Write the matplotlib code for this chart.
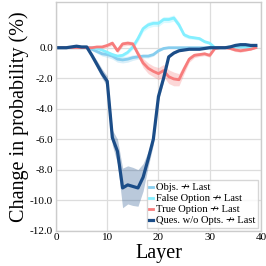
import numpy as np
import matplotlib
matplotlib.use("Agg")
import matplotlib.pyplot as plt

plt.rcParams["font.family"] = ["Liberation Serif", "DejaVu Serif", "DejaVu Sans"]

layers = np.arange(40)

# mean change in probability (%) per layer
objs = [0.0, 0.0, 0.0, 0.0, 0.0, 0.0, 0.0, -0.1, -0.25, -0.4,
        -0.45, -0.55, -0.75, -0.8, -0.75, -0.65, -0.6, -0.55, -0.55, -0.45,
        -0.2, -0.05, 0.0, 0.0, 0.0, 0.0, 0.0, 0.0, 0.0, 0.0,
        0.0, 0.0, 0.0, 0.0, 0.05, 0.05, 0.05, 0.05, 0.05, 0.05]
false_opt = [0.0, 0.0, 0.0, 0.0, 0.0, 0.0, 0.0, 0.0, -0.05, -0.15,
             -0.3, -0.45, -0.55, -0.5, -0.3, 0.05, 0.6, 1.25, 1.5, 1.6,
             1.6, 1.85, 1.85, 1.95, 1.5, 0.85, 0.7, 0.65, 0.6, 0.4,
             0.3, 0.0, 0.0, 0.0, 0.05, 0.1, 0.1, 0.05, 0.05, 0.05]
true_opt = [0.0, 0.0, 0.0, 0.0, 0.0, 0.0, 0.0, 0.0, 0.05, 0.05,
            0.15, 0.3, -0.2, 0.25, 0.3, 0.25, -0.4, -1.0, -1.35, -1.55,
            -1.7, -1.5, -1.9, -2.05, -2.1, -1.4, -0.75, -0.5, -0.45, -0.4,
            -0.5, -0.05, 0.0, 0.0, -0.05, -0.15, -0.2, -0.15, -0.1, 0.0]
ques = [0.0, 0.0, 0.0, 0.05, 0.1, 0.05, 0.05, -0.5, -1.1, -1.7,
        -2.2, -5.9, -6.8, -9.2, -9.0, -9.1, -9.2, -8.5, -7.3, -6.0,
        -3.2, -2.0, -0.6, -0.35, -0.2, -0.15, -0.1, -0.1, -0.1, -0.05,
        0.0, 0.0, 0.0, 0.0, 0.05, 0.15, 0.2, 0.2, 0.15, 0.15]

# spread (shaded band half-width)
objs_sd = [0.02, 0.02, 0.02, 0.02, 0.02, 0.02, 0.03, 0.08, 0.12, 0.15,
           0.18, 0.2, 0.2, 0.2, 0.2, 0.18, 0.15, 0.12, 0.12, 0.1,
           0.08, 0.05, 0.03, 0.03, 0.03, 0.03, 0.03, 0.03, 0.03, 0.03,
           0.03, 0.03, 0.03, 0.03, 0.05, 0.05, 0.05, 0.04, 0.03, 0.03]
false_sd = [0.02, 0.02, 0.02, 0.02, 0.02, 0.02, 0.02, 0.03, 0.05, 0.08,
            0.1, 0.12, 0.12, 0.12, 0.12, 0.15, 0.2, 0.2, 0.2, 0.2,
            0.2, 0.2, 0.2, 0.2, 0.2, 0.15, 0.12, 0.1, 0.1, 0.1,
            0.08, 0.05, 0.03, 0.03, 0.05, 0.08, 0.08, 0.05, 0.03, 0.03]
true_sd = [0.02, 0.02, 0.02, 0.02, 0.02, 0.02, 0.02, 0.03, 0.05, 0.08,
           0.12, 0.15, 0.15, 0.15, 0.15, 0.15, 0.2, 0.3, 0.35, 0.35,
           0.4, 0.4, 0.45, 0.45, 0.4, 0.3, 0.2, 0.15, 0.12, 0.12,
           0.12, 0.08, 0.05, 0.05, 0.08, 0.1, 0.1, 0.08, 0.05, 0.03]
ques_sd = [0.02, 0.02, 0.02, 0.03, 0.03, 0.03, 0.05, 0.15, 0.25, 0.3,
           0.35, 0.5, 0.8, 1.3, 1.25, 1.25, 1.2, 0.9, 0.5, 0.35,
           0.3, 0.2, 0.1, 0.05, 0.05, 0.03, 0.03, 0.03, 0.03, 0.03,
           0.03, 0.03, 0.03, 0.03, 0.03, 0.05, 0.05, 0.05, 0.05, 0.05]

series = [
    ("Objs. \u219b Last", objs, objs_sd, "#87cdee", 2.0),
    ("False Option \u219b Last", false_opt, false_sd, "#84efff", 2.0),
    ("True Option \u219b Last", true_opt, true_sd, "#f77c7c", 2.0),
    ("Ques. w/o Opts. \u219b Last", ques, ques_sd, "#1b4d88", 2.3),
]

fig = plt.figure(figsize=(2.66, 2.66), dpi=100)
ax = fig.add_axes([0.2105, 0.133, 0.7705, 0.8595])

for label, mean, sd, color, lw in series:
    m = np.array(mean)
    s = np.array(sd)
    ax.fill_between(layers, m - s, m + s, color=color, alpha=0.3, linewidth=0)
    ax.plot(layers, m, color=color, linewidth=lw, label=label)

ax.set_xlim(0, 40)
ax.set_ylim(-12, 3)
ax.set_xticks([0, 10, 20, 30, 40])
ax.set_yticks(np.arange(-12, 0.1, 2))
ax.set_yticklabels([f"{v:.1f}" for v in np.arange(-12, 0.1, 2)])
ax.tick_params(axis="both", labelsize=8, length=0, pad=2)

ax.grid(True, color="#dddddd", linewidth=0.9)
ax.set_axisbelow(True)
for sp in ax.spines.values():
    sp.set_color("#cccccc")
    sp.set_linewidth(1.0)

ax.set_xlabel("Layer", fontsize=14.5, labelpad=1)
ax.set_ylabel("Change in probability (%)", fontsize=14.5, labelpad=1)

ax.legend(loc="lower right", fontsize=7.6, handlelength=0.35, handletextpad=0.3,
          borderpad=0.25, labelspacing=0.15, borderaxespad=0.25,
          framealpha=0.8, edgecolor="#cccccc", fancybox=False)

fig.savefig("out.png", dpi=100)
